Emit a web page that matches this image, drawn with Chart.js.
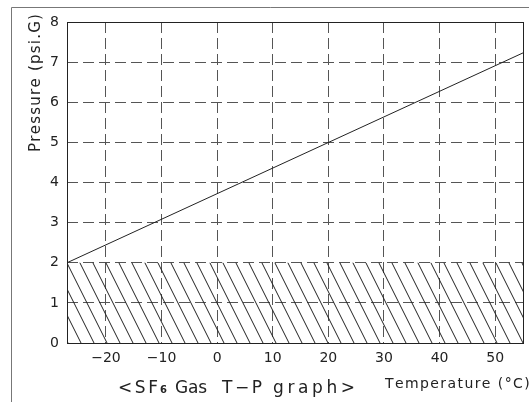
<!DOCTYPE html>
<html>
<head>
<meta charset="utf-8">
<script src="https://cdn.jsdelivr.net/npm/chart.js@4"></script>
<style>
  html, body { margin: 0; padding: 0; background: #fff; }
  #wrap { width: 529px; height: 402px; position: relative; }
</style>
</head>
<body>
<div id="wrap"><canvas id="c" width="529" height="402"></canvas></div>
<script>
// ---- data ----
const xRange = [-27, 55];
const yRange = [0, 8];
const xTicks = [-20, -10, 0, 10, 20, 30, 40, 50];
const yTicks = [0, 1, 2, 3, 4, 5, 6, 7, 8];
const tpTemps = [-27, 55];
const tpPressures = [2, 7.23];
const hatchTemps = [-27, 55];
const hatchLevel = [2, 2];

const chartTitle = ['<SF', '6', 'Gas', 'T\u2212P', 'graph>'];
const xTitle = 'Temperature (\u00B0C)';
const yTitle = 'Pressure (psi.G)';

const FONT = '"DejaVu Sans", sans-serif';
const INK = '#222';

// hatch pattern "\\\"
function makeHatch() {
  const w = 13, h = 26;
  const c = document.createElement('canvas');
  c.width = w; c.height = h;
  const g = c.getContext('2d');
  g.strokeStyle = '#222';
  g.lineWidth = 1;
  for (let k = -1; k <= 1; k++) {
    g.beginPath();
    g.moveTo(k * w, 0);
    g.lineTo(k * w + w, h);
    g.stroke();
  }
  const p = g.createPattern(c, 'repeat');
  p.setTransform(new DOMMatrix().translate(67, 263));
  return p;
}

function drawSpaced(ctx, text, x, y, targetWidth) {
  ctx.letterSpacing = '0px';
  const w = ctx.measureText(text).width;
  const n = text.length;
  const sp = n > 1 ? (targetWidth - w) / (n - 1) : 0;
  let cx = x;
  for (const ch of text) {
    ctx.fillText(ch, cx, y);
    cx += ctx.measureText(ch).width + sp;
  }
}

const decor = {
  id: 'decor',
  afterDraw(chart) {
    const ctx = chart.ctx;
    const a = chart.chartArea;
    ctx.save();
    // outer frame
    ctx.strokeStyle = '#777';
    ctx.lineWidth = 1;
    ctx.beginPath();
    ctx.moveTo(11.5, 402);
    ctx.lineTo(11.5, 7.5);
    ctx.lineTo(529, 7.5);
    ctx.stroke();
    // plot frame
    ctx.strokeStyle = INK;
    ctx.strokeRect(Math.round(a.left) + 0.5, Math.round(a.top) + 0.5,
                   Math.round(a.right - a.left), Math.round(a.bottom - a.top));
    ctx.fillStyle = INK;
    ctx.textBaseline = 'alphabetic';
    ctx.textAlign = 'left';
    // y title
    ctx.save();
    ctx.translate(40, 152);
    ctx.rotate(-Math.PI / 2);
    ctx.font = '15px ' + FONT;
    drawSpaced(ctx, yTitle, 0, 0, 137);
    ctx.restore();
    // x title
    ctx.font = '14px ' + FONT;
    drawSpaced(ctx, xTitle, 385, 388, 142);
    // chart title
    ctx.font = '17px ' + FONT;
    drawSpaced(ctx, chartTitle[0], 118, 393, 40);
    ctx.font = 'bold 10px ' + FONT;
    ctx.fillText(chartTitle[1], 160, 393);
    ctx.font = '17px ' + FONT;
    drawSpaced(ctx, chartTitle[2], 175, 393, 32);
    drawSpaced(ctx, chartTitle[3], 222, 393, 40);
    drawSpaced(ctx, chartTitle[4], 273, 393, 82);
    ctx.restore();
  }
};

const setTicks = (arr) => (scale) => { scale.ticks = arr.map(v => ({ value: v })); };

new Chart(document.getElementById('c'), {
  type: 'line',
  data: {
    datasets: [
      {
        data: hatchTemps.map((t, i) => ({ x: t, y: hatchLevel[i] })),
        borderWidth: 0,
        borderColor: 'rgba(0,0,0,0)',
        backgroundColor: makeHatch(),
        fill: 'origin',
        pointRadius: 0,
        order: 2
      },
      {
        data: tpTemps.map((t, i) => ({ x: t, y: tpPressures[i] })),
        borderWidth: 1,
        borderColor: INK,
        fill: false,
        pointRadius: 0,
        order: 1
      }
    ]
  },
  options: {
    responsive: false,
    animation: false,
    devicePixelRatio: 1,
    layout: { padding: { left: 0, top: 22, right: 6, bottom: 0 } },
    plugins: { legend: { display: false }, tooltip: { enabled: false }, title: { display: false } },
    scales: {
      x: {
        type: 'linear',
        min: xRange[0], max: xRange[1],
        afterBuildTicks: setTicks(xTicks),
        afterFit: (s) => { s.height = 59; },
        grid: { color: '#555', lineWidth: 1, drawTicks: false },
        border: { display: false, dash: [11, 5] },
        ticks: {
          color: INK, padding: 7, maxRotation: 0, autoSkip: false,
          font: { family: FONT, size: 14 },
          callback: (v) => (v < 0 ? '\u2212' + Math.abs(v) : String(v))
        }
      },
      y: {
        type: 'linear',
        min: yRange[0], max: yRange[1],
        afterBuildTicks: setTicks(yTicks),
        afterFit: (s) => { s.width = 67; },
        grid: { color: '#555', lineWidth: 1, drawTicks: false },
        border: { display: false, dash: [11, 5] },
        ticks: {
          color: INK, padding: 8, autoSkip: false,
          font: { family: FONT, size: 14 },
          callback: (v) => String(v)
        }
      }
    }
  },
  plugins: [decor]
});
</script>
</body>
</html>
